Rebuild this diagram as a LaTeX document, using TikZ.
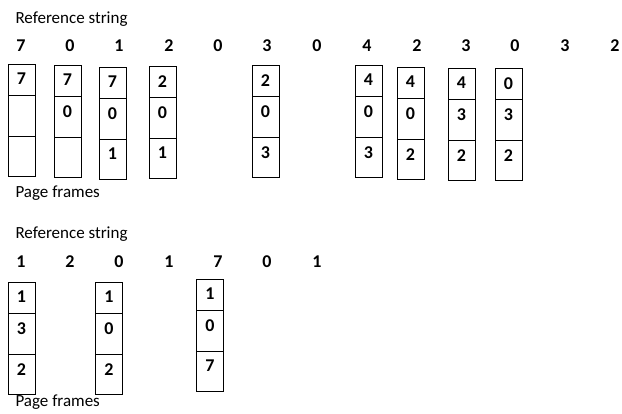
\documentclass[tikz,border=0pt]{standalone}
\usepackage{fontspec}
\setmainfont{Carlito}
\usetikzlibrary{positioning}
\begin{document}
\begin{tikzpicture}[x=1pt, y=-1pt,
  every node/.style={font=\fontsize{17}{20}\selectfont},
  refnum/.style={font=\fontsize{18}{21}\selectfont\bfseries},
  cell/.style={draw, line width=0.8pt, minimum width=27pt, minimum height=41pt, inner sep=0pt, outer sep=0pt},
  topcell/.style={cell, minimum height=31pt, anchor=north},
  lowcell/.style={cell, minimum height=40pt},
  val/.style={label={[anchor=north, inner sep=0pt, yshift=-9pt, font=\fontsize{18}{21}\selectfont\bfseries]north:#1}}]
\useasboundingbox (0,0) rectangle (622,414);

% Reference string 7 0 1 2 0 3 0 4 2 3 0 3 2
\node[anchor=west] (title1) at (12,19) {Reference string};
\node[refnum] (r1)  at (21,46)  {7};
\node[refnum] (r2)  at (70,46)  {0};
\node[refnum] (r3)  at (119,46) {1};
\node[refnum] (r4)  at (169,46) {2};
\node[refnum] (r5)  at (218,46) {0};
\node[refnum] (r6)  at (267,46) {3};
\node[refnum] (r7)  at (317,46) {0};
\node[refnum] (r8)  at (367,46) {4};
\node[refnum] (r9)  at (417,46) {2};
\node[refnum] (r10) at (466,46) {3};
\node[refnum] (r11) at (515,46) {0};
\node[refnum] (r12) at (565,46) {3};
\node[refnum] (r13) at (615,46) {2};

% Page frames
\node[topcell, val=7] (t1a) at (21.5,64) {};
\node[cell, below=0pt of t1a] (t1b) {};
\node[lowcell, below=0pt of t1b] (t1c) {};

\node[topcell, val=7] (t2a) at (67.5,65) {};
\node[cell, val=0, below=0pt of t2a] (t2b) {};
\node[lowcell, below=0pt of t2b] (t2c) {};

\node[topcell, val=7] (t3a) at (112.5,67) {};
\node[cell, val=0, below=0pt of t3a] (t3b) {};
\node[lowcell, val=1, below=0pt of t3b] (t3c) {};

\node[topcell, val=2] (t4a) at (162.5,66) {};
\node[cell, val=0, below=0pt of t4a] (t4b) {};
\node[lowcell, val=1, below=0pt of t4b] (t4c) {};

\node[topcell, val=2] (t5a) at (265.5,65) {};
\node[cell, val=0, below=0pt of t5a] (t5b) {};
\node[lowcell, val=3, below=0pt of t5b] (t5c) {};

\node[topcell, val=4] (t6a) at (368.5,65) {};
\node[cell, val=0, below=0pt of t6a] (t6b) {};
\node[lowcell, val=3, below=0pt of t6b] (t6c) {};

\node[topcell, val=4] (t7a) at (410.5,67) {};
\node[cell, val=0, below=0pt of t7a] (t7b) {};
\node[lowcell, val=2, below=0pt of t7b] (t7c) {};

\node[topcell, val=4] (t8a) at (461.5,68) {};
\node[cell, val=3, below=0pt of t8a] (t8b) {};
\node[lowcell, val=2, below=0pt of t8b] (t8c) {};

\node[topcell, val=0] (t9a) at (508.5,68) {};
\node[cell, val=3, below=0pt of t9a] (t9b) {};
\node[lowcell, val=2, below=0pt of t9b] (t9c) {};

\node[anchor=west] (pf1) at (12,193) {Page frames};

% Reference string 1 2 0 1 7 0 1
\node[anchor=west] (title2) at (12,234) {Reference string};
\node[refnum] (s1) at (21,262)  {1};
\node[refnum] (s2) at (70,262)  {2};
\node[refnum] (s3) at (119,262) {0};
\node[refnum] (s4) at (169,262) {1};
\node[refnum] (s5) at (218,262) {7};
\node[refnum] (s6) at (267,262) {0};
\node[refnum] (s7) at (317,262) {1};

% Page frames
\node[topcell, val=1] (b1a) at (21.5,282) {};
\node[cell, val=3, below=0pt of b1a] (b1b) {};
\node[lowcell, val=2, below=0pt of b1b] (b1c) {};

\node[topcell, val=1] (b2a) at (109,282) {};
\node[cell, val=0, below=0pt of b2a] (b2b) {};
\node[lowcell, val=2, below=0pt of b2b] (b2c) {};

\node[topcell, val=1] (b3a) at (210,279) {};
\node[cell, val=0, below=0pt of b3a] (b3b) {};
\node[lowcell, val=7, below=0pt of b3b] (b3c) {};

\node[anchor=west] (pf2) at (12,402) {Page frames};

\end{tikzpicture}
\end{document}
